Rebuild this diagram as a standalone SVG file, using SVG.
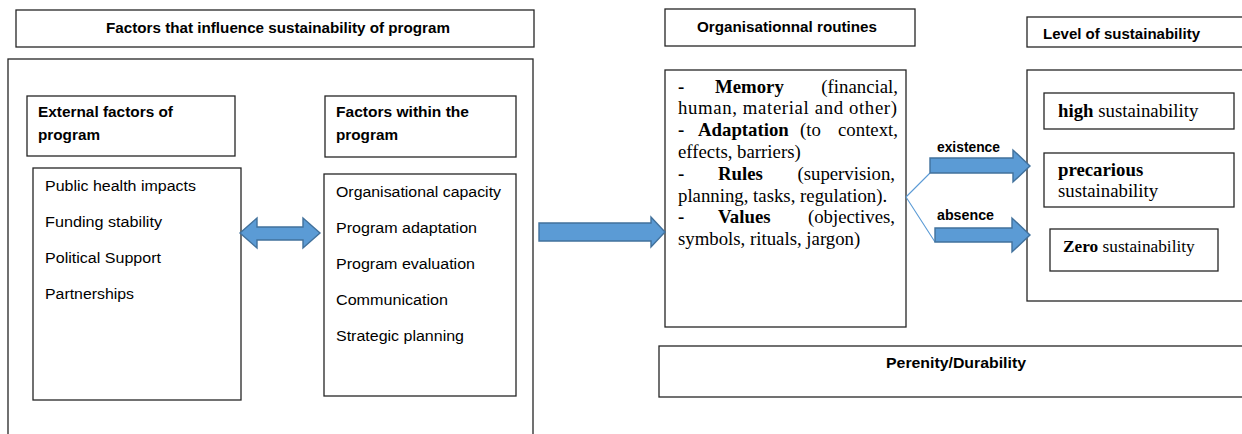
<svg xmlns="http://www.w3.org/2000/svg" width="1242" height="434" viewBox="0 0 1242 434">
  <style>
    .box { fill: #ffffff; stroke: #262626; stroke-width: 1.3; }
    .hd { font-family: "Liberation Sans", Arial, sans-serif; font-weight: bold; font-size: 15px; fill: #000; }
    .li { font-family: "Liberation Sans", Arial, sans-serif; font-size: 15.5px; fill: #000; }
    .sr { font-family: "Liberation Serif", "Times New Roman", serif; font-size: 18.8px; fill: #000; }
    .sm { font-size: 17.3px; }
    .b { font-weight: bold; }
    .arrow { fill: #5B9BD5; stroke: #41719C; stroke-width: 1.4; stroke-linejoin: miter; }
    .link { fill: none; stroke: #5B9BD5; stroke-width: 1.1; }
  </style>

  <rect width="1242" height="434" fill="#ffffff"/>

  <!-- left column: factors -->
  <g id="factors-title">
    <rect class="box" x="16" y="10" width="518" height="37"/>
    <text class="hd" x="106" y="33" textLength="344" lengthAdjust="spacingAndGlyphs">Factors that influence sustainability of program</text>
  </g>

  <g id="factors-frame">
    <rect class="box" x="8" y="59" width="525" height="400"/>
  </g>

  <g id="external-header">
    <rect class="box" x="27" y="96" width="208" height="60"/>
    <text class="hd" x="38" y="117" textLength="135" lengthAdjust="spacingAndGlyphs">External factors of</text>
    <text class="hd" x="38" y="140" textLength="62" lengthAdjust="spacingAndGlyphs">program</text>
  </g>

  <g id="internal-header">
    <rect class="box" x="325" y="96" width="191" height="61"/>
    <text class="hd" x="336" y="117" textLength="133" lengthAdjust="spacingAndGlyphs">Factors within the</text>
    <text class="hd" x="336" y="140" textLength="62" lengthAdjust="spacingAndGlyphs">program</text>
  </g>

  <g id="external-list">
    <rect class="box" x="33" y="168" width="208" height="232"/>
    <text class="li" x="45" y="191" textLength="151" lengthAdjust="spacingAndGlyphs">Public health impacts</text>
    <text class="li" x="45" y="227" textLength="117" lengthAdjust="spacingAndGlyphs">Funding stability</text>
    <text class="li" x="45" y="263" textLength="116" lengthAdjust="spacingAndGlyphs">Political Support</text>
    <text class="li" x="45" y="299" textLength="89" lengthAdjust="spacingAndGlyphs">Partnerships</text>
  </g>

  <g id="internal-list">
    <rect class="box" x="324" y="174" width="192" height="222"/>
    <text class="li" x="336" y="197" textLength="165" lengthAdjust="spacingAndGlyphs">Organisational capacity</text>
    <text class="li" x="336" y="233" textLength="141" lengthAdjust="spacingAndGlyphs">Program adaptation</text>
    <text class="li" x="336" y="269" textLength="139" lengthAdjust="spacingAndGlyphs">Program evaluation</text>
    <text class="li" x="336" y="305" textLength="112" lengthAdjust="spacingAndGlyphs">Communication</text>
    <text class="li" x="336" y="341" textLength="128" lengthAdjust="spacingAndGlyphs">Strategic planning</text>
  </g>

  <!-- middle column: organisational routines (justified lines placed word by word) -->
  <g id="routines-title">
    <rect class="box" x="665" y="9" width="250" height="37"/>
    <text class="hd" x="697" y="32" textLength="180" lengthAdjust="spacingAndGlyphs">Organisationnal routines</text>
  </g>

  <g id="routines">
    <rect class="box" x="665" y="70" width="241" height="257"/>
    <g class="sr">
      <text x="678" y="93" class="b">-</text>
      <text x="715" y="93" class="b">Memory</text>
      <text x="898" y="93" text-anchor="end">(financial,</text>
      <text x="678" y="114" textLength="219" lengthAdjust="spacing">human, material and other)</text>
      <text x="678" y="136" class="b">-</text>
      <text x="698" y="136" class="b">Adaptation</text>
      <text x="800" y="136">(to</text>
      <text x="898" y="136" text-anchor="end">context,</text>
      <text x="678" y="158">effects, barriers)</text>
      <text x="678" y="180" class="b">-</text>
      <text x="718" y="180" class="b">Rules</text>
      <text x="895" y="180" text-anchor="end">(supervision,</text>
      <text x="678" y="202">planning, tasks, regulation).</text>
      <text x="678" y="223" class="b">-</text>
      <text x="718" y="223" class="b">Values</text>
      <text x="895" y="223" text-anchor="end">(objectives,</text>
      <text x="678" y="245">symbols, rituals, jargon)</text>
    </g>
  </g>

  <g id="perenity">
    <rect class="box" x="659" y="346" width="600" height="51"/>
    <text class="hd" x="886" y="368" textLength="140" lengthAdjust="spacingAndGlyphs">Perenity/Durability</text>
  </g>

  <!-- right column: level of sustainability -->
  <g id="level-title">
    <rect class="box" x="1027" y="17" width="230" height="30"/>
    <text class="hd" x="1043" y="39" textLength="157" lengthAdjust="spacingAndGlyphs">Level of sustainability</text>
  </g>

  <g id="level-frame">
    <rect class="box" x="1027" y="70" width="230" height="231"/>
  </g>

  <g id="level-high">
    <rect class="box" x="1044" y="93" width="190" height="36"/>
    <text class="sr" x="1058" y="117"><tspan class="b">high</tspan> sustainability</text>
  </g>

  <g id="level-precarious">
    <rect class="box" x="1044" y="153" width="190" height="54"/>
    <text class="sr b" x="1058" y="176">precarious</text>
    <text class="sr" x="1058" y="197">sustainability</text>
  </g>

  <g id="level-zero">
    <rect class="box" x="1050" y="229" width="168" height="42"/>
    <text class="sr sm" x="1063" y="252"><tspan class="b">Zero</tspan> sustainability</text>
  </g>

  <!-- connectors -->
  <g id="connectors">
    <path class="arrow" d="M240,233 L257,218 L257,227 L303,227 L303,218 L320,233 L303,248 L303,240 L257,240 L257,248 Z"/>
    <path class="arrow" d="M539,223 L651,223 L651,217 L665,232 L651,247 L651,241 L539,241 Z"/>
    <path class="link" d="M906,197 L930,173 M906,197 L935,242"/>
    <path class="arrow" d="M930,158 L1013,158 L1013,150 L1030,166 L1013,182 L1013,173 L930,173 Z"/>
    <path class="arrow" d="M935,228 L1012,228 L1012,218 L1030,235 L1012,252 L1012,242 L935,242 Z"/>
    <text class="hd" x="937" y="152" textLength="63" lengthAdjust="spacingAndGlyphs">existence</text>
    <text class="hd" x="937" y="220" textLength="57" lengthAdjust="spacingAndGlyphs">absence</text>
  </g>
</svg>
